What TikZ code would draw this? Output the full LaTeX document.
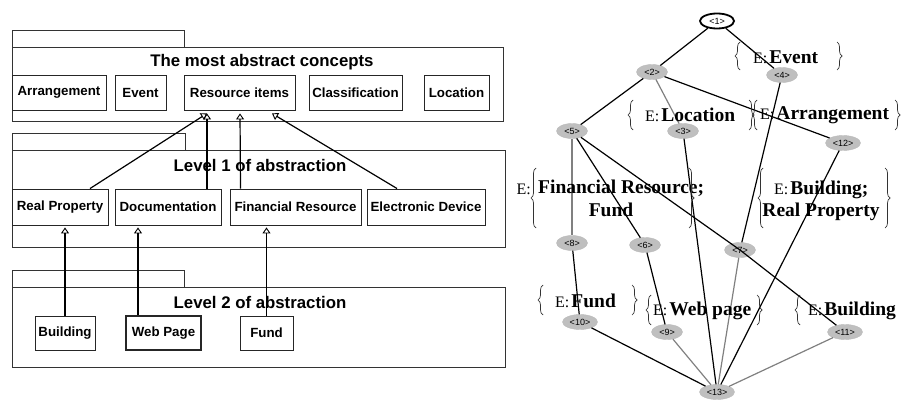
\documentclass[tikz,border=0pt]{standalone}
\usepackage{fontspec}
\setmainfont{Liberation Serif}
\newfontfamily\lsans{Liberation Sans}
\usetikzlibrary{arrows.meta,decorations.pathreplacing,shapes.geometric}
\newcommand\Elabel[1]{{\fontsize{16}{18}\selectfont\mdseries E:}\hspace{2pt}#1}
\begin{document}
\begin{tikzpicture}[x=1pt,y=-1pt,
 frame/.style={draw=black!80, line width=0.9pt},
 cbox/.style={draw=black!85, line width=0.9pt, minimum height=35pt, inner sep=0pt, font=\lsans\bfseries\fontsize{13.3}{15}\selectfont},
 ltitle/.style={font=\lsans\bfseries\fontsize{16.8}{18}\selectfont, inner sep=0pt},
 gen/.style={line width=1.2pt, -{Triangle[open,width=8pt,length=6pt,line width=0.9pt]}},
 gnode/.style={ellipse, fill=gray!50, draw=gray!55, minimum width=31pt, minimum height=15pt, inner sep=0pt, font=\lsans\fontsize{9}{10}\selectfont},
 bedge/.style={line width=1.2pt, black},
 gedge/.style={line width=1.2pt, gray},
 lab/.style={inner sep=0pt, font=\fontsize{19.5}{21}\selectfont\bfseries},
 brc/.style={decorate, decoration={brace, amplitude=5pt}, line width=0.7pt, black!80},
]
\useasboundingbox (0,0) rectangle (901,403);
\fill[white] (0,0) rectangle (901,403);

% ---------- left panel: packages ----------
\draw[frame] (12,30) rectangle (184,47);
\draw[frame] (12,47) rectangle (503,121);
\node[ltitle] (t0) at (262,62) {The most abstract concepts};
\node[cbox, minimum width=94pt] (arr) at (59,92.5) {Arrangement};
\node[cbox, minimum width=51pt] (ev) at (140.5,92.5) {Event};
\node[cbox, minimum width=111pt] (ri) at (239.5,92.5) {Resource items};
\node[cbox, minimum width=93pt] (cl) at (355.5,92.5) {Classification};
\node[cbox, minimum width=65pt] (lo) at (456.5,92.5) {Location};

\draw[frame] (12,133) rectangle (185,150);
\draw[frame] (12,150) rectangle (505,247);
\node[ltitle] (t1) at (260,165) {Level 1 of abstraction};
\node[cbox, minimum width=96pt, minimum height=36pt] (rp) at (60,207) {Real Property};
\node[cbox, minimum width=106pt, minimum height=36pt] (doc) at (168,207) {Documentation};
\node[cbox, minimum width=131pt, minimum height=36pt] (fr) at (295.5,207) {Financial Resource};
\node[cbox, minimum width=118pt, minimum height=36pt] (ed) at (426,207) {Electronic Device};

\draw[frame] (12,270) rectangle (184,287);
\draw[frame] (12,287) rectangle (505,367);
\node[ltitle] (t2) at (260,302) {Level 2 of abstraction};
\node[cbox, minimum width=60pt, minimum height=34pt] (bu) at (65,333) {Building};
\node[cbox, minimum width=75pt, minimum height=34pt, line width=1.3pt] (wp) at (163.5,333) {Web Page};
\node[cbox, minimum width=53pt, minimum height=34pt] (fu) at (266.5,333) {Fund};

\draw[gen] ([xshift=30pt]rp.north) -- ([xshift=-32.5pt,yshift=-3pt]ri.south);
\draw[gen] ([xshift=39pt]doc.north) -- ([xshift=-32.5pt,yshift=-3pt]ri.south);
\draw[gen] ([xshift=-55pt]fr.north) -- ([xshift=0.5pt,yshift=-3pt]ri.south);
\draw[gen] ([xshift=-29pt]ed.north) -- ([xshift=32.5pt,yshift=-3pt]ri.south);
\draw[gen] (bu.north) -- ([xshift=5pt,yshift=-2pt]rp.south);
\draw[gen] ([xshift=-25.5pt]wp.north) -- ([xshift=-30pt,yshift=-2pt]doc.south);
\draw[gen] (fu.north) -- ([xshift=-29pt,yshift=-2pt]fr.south);

% ---------- right panel: lattice ----------
\node[gnode, fill=white, draw=black, line width=1.8pt, minimum width=34pt] (n1) at (717,21) {<1>};
\node[gnode] (n2) at (652,72) {<2>};
\node[gnode] (n4) at (782,75) {<4>};
\node[gnode] (n5) at (572,131) {<5>};
\node[gnode] (n3) at (683,131) {<3>};
\node[gnode, minimum width=35pt] (n12) at (843,143) {<12>};
\node[gnode] (n8) at (572,243) {<8>};
\node[gnode] (n6) at (645,245) {<6>};
\node[gnode] (n7) at (740,250) {<7>};
\node[gnode, minimum width=35pt] (n10) at (580,322) {<10>};
\node[gnode] (n9) at (667,332) {<9>};
\node[gnode, minimum width=35pt] (n11) at (845,332) {<11>};
\node[gnode, minimum width=35pt] (n13) at (717,392) {<13>};

\draw[bedge] (n1) -- (n2);
\draw[bedge] (n1) -- (n4);
\draw[bedge] (n2) -- (n5);
\draw[bedge] (n2) -- (n12);
\draw[gedge] (n2) -- (n3);
\draw[bedge] (n4) -- (n7);
\draw[gedge] (n5) -- (n8);
\draw[bedge] (n5) -- (n6);
\draw[bedge] (n3) -- (n13);
\draw[bedge] (n12) -- (n13);
\draw[bedge] (n8) -- (n10);
\draw[bedge] (n6) -- (n9);
\draw[bedge] (n10) -- (n13);
\draw[gedge] (n7) -- (n13);
\draw[gedge] (n9) -- (n13);
\draw[gedge] (n11) -- (n13);
\draw[bedge] (n5) -- (n7.center) -- (n11);

% ---------- labels ----------
\node[lab, anchor=west] (lEv) at (753,57) {\Elabel{Event}};
\draw[brc] (740,70) -- (740,42);
\draw[brc] (837,42) -- (837,70);

\node[lab, anchor=west] (lLo) at (645,115) {\Elabel{Location}};
\draw[brc] (633,130) -- (633,100);
\draw[brc] (749,100) -- (749,130);

\node[lab, anchor=west] (lAr) at (760,115) {\Elabel{Arrangement}};
\draw[brc] (757,130) -- (757,100);
\draw[brc] (895,100) -- (895,130);

\node[inner sep=0pt, anchor=east, font=\fontsize{16}{18}\selectfont] (lE1) at (531,189) {E:};
\node[lab, anchor=west] (lFi) at (538,188) {Financial Resource;};
\node[lab] (lFu) at (611,210) {Fund};
\draw[brc] (536,228) -- (536,168);
\draw[brc] (689,168) -- (689,228);

\node[lab, anchor=west] (lBu) at (774,190) {\Elabel{Building;}};
\node[lab] (lRp) at (821,212) {Real Property};
\draw[brc] (763,228) -- (763,168);
\draw[brc] (885,168) -- (885,228);

\node[lab, anchor=west] (lFd) at (555,301) {\Elabel{Fund}};
\draw[brc] (543,315) -- (543,285);
\draw[brc] (632,285) -- (632,315);

\node[lab, anchor=west] (lWp) at (653,311) {\Elabel{Web page}};
\draw[brc] (651,325) -- (651,295);
\draw[brc] (757,295) -- (757,325);

\node[lab, anchor=west] (lB2) at (808,311) {\Elabel{Building}};
\draw[brc] (800,325) -- (800,295);
\end{tikzpicture}
\end{document}
